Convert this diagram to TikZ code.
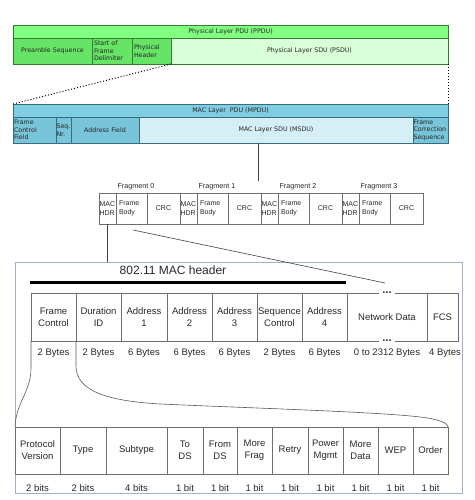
\documentclass[tikz,border=0pt]{standalone}
\usepackage{fontspec}
\setmainfont{Liberation Sans}
\newfontfamily\dv{DejaVu Sans}
\definecolor{ghead}{RGB}{128,255,128}
\definecolor{gcell}{RGB}{102,228,102}
\definecolor{glight}{RGB}{216,255,216}
\definecolor{gline}{RGB}{50,125,50}
\definecolor{bhead}{RGB}{128,204,224}
\definecolor{bcell}{RGB}{120,196,216}
\definecolor{blight}{RGB}{214,238,245}
\definecolor{bline}{RGB}{55,110,125}
\definecolor{boxc}{RGB}{160,178,196}
\definecolor{tline}{RGB}{110,110,110}
\definecolor{ttext}{RGB}{40,40,40}
\tikzset{
  cell/.style={draw, rectangle, anchor=north west, inner xsep=2pt, inner ysep=0pt, outer sep=0pt, line width=0.7pt},
  phy/.style={cell, draw=gline, font=\dv\fontsize{6.3}{7.6}\selectfont, text=black!85},
  mac/.style={cell, draw=bline, font=\dv\fontsize{6.3}{7.6}\selectfont, text=black!85},
  frag/.style={cell, draw=tline, line width=0.6pt, font=\fontsize{7}{9}\selectfont, text=ttext, minimum height=31pt},
  flabel/.style={font=\fontsize{7.2}{8}\selectfont, text=ttext},
  hcell/.style={cell, draw=tline, line width=0.6pt, align=center, font=\fontsize{9.5}{12}\selectfont, text=ttext, inner xsep=0pt},
  blabel/.style={font=\fontsize{9.5}{11}\selectfont, text=ttext, inner sep=0pt},
  conn/.style={draw=black!75, line width=0.6pt},
  curve/.style={draw=black!65, line width=0.6pt},
  dotsn/.style={fill=white, inner xsep=3pt, inner ysep=0.6pt, font=\fontsize{11}{11}\bfseries\selectfont, text=ttext}
}
\begin{document}
\begin{tikzpicture}[x=1pt,y=-1pt]
\useasboundingbox (0,0) rectangle (474,500);
% ---------- PPDU ----------
\node[phy, fill=ghead, minimum width=435pt, minimum height=13pt] (ppdu) at (13,25) {Physical Layer PDU (PPDU)};
\node[phy, fill=gcell, minimum width=79pt, minimum height=26pt] (pre) at (13,38) {Preamble Sequence};
\node[phy, fill=gcell, minimum height=26pt, text width=36pt, align=left] (sfd) at (92,38) {Start of\\Frame\\Delimiter};
\node[phy, fill=gcell, minimum height=26pt, text width=35pt, align=left] (phh) at (132,38) {Physical\\Header};
\node[phy, fill=glight, minimum width=277pt, minimum height=26pt] (psdu) at (171,38) {Physical Layer SDU (PSDU)};
% ---------- MPDU ----------
\node[mac, fill=bhead, minimum width=435pt, minimum height=13pt] (mpdu) at (13,104) {MAC Layer\ \ PDU (MPDU)};
\node[mac, fill=bcell, minimum height=26pt, text width=41pt, inner xsep=1pt, align=left] (fcf) at (13,117) {Frame\\Control\\Field};
\node[mac, fill=bcell, minimum height=26pt, text width=14pt, inner xsep=0.5pt, align=left] (seq) at (56,117) {Seq.\\Nr.};
\node[mac, fill=bcell, minimum width=68pt, minimum height=26pt] (addr) at (71,117) {Address Field};
\node[mac, fill=blight, minimum width=274pt, minimum height=26pt] (msdu) at (139,117) {MAC Layer SDU (MSDU)};
\node[mac, fill=bcell, minimum height=26pt, text width=34pt, inner xsep=0.5pt, align=left] (fcs) at (413,117) {Frame\\Correction\\Sequence};
\draw[dotted, line width=1pt] (psdu.south west) -- (mpdu.north west);
\draw[dotted, line width=1pt] (psdu.south east) -- (mpdu.north east);
% ---------- Fragments ----------
\coordinate (fragtop) at (258,181);
\draw[conn] (msdu.south -| fragtop) -- (fragtop);
\foreach \i in {0,1,2,3}{
  \pgfmathsetmacro{\xo}{99+81*\i}
  \node[frag, text width=16pt, inner xsep=0.5pt, align=left] (h\i) at (\xo,193) {MAC\\HDR};
  \node[frag, text width=25pt, inner xsep=3pt, align=left] (b\i) at (\xo+17,193) {Frame\\Body};
  \node[frag, minimum width=33pt] (c\i) at (\xo+48,193) {CRC};
  \node[flabel] (fl\i) at (\xo+37,187) {Fragment \i};
}
% ---------- 802.11 MAC header ----------
\node[draw=boxc, line width=0.8pt, rectangle, anchor=north west, minimum width=447pt, minimum height=231pt, inner sep=0pt] (hdrbox) at (15,262) {};
\draw[conn] (h0.south) -- (h0.south |- hdrbox.north);
\node[font=\fontsize{12}{14}\selectfont, text=ttext] (title) at (173,270) {802.11 MAC header};
\draw[line width=3pt] (30,282) -- (346,282);
% upper table
\node[hcell, minimum width=45pt, minimum height=48pt] (u1) at (31,293) {Frame\\Control};
\node[hcell, minimum width=45pt, minimum height=48pt] (u2) at (76,293) {Duration\\ID};
\node[hcell, minimum width=46pt, minimum height=48pt] (u3) at (121,293) {Address\\1};
\node[hcell, minimum width=45pt, minimum height=48pt] (u4) at (167,293) {Address\\2};
\node[hcell, minimum width=45pt, minimum height=48pt] (u5) at (212,293) {Address\\3};
\node[hcell, minimum width=45pt, minimum height=48pt] (u6) at (257,293) {Sequence\\Control};
\node[hcell, minimum width=45pt, minimum height=48pt] (u7) at (302,293) {Address\\4};
\node[hcell, minimum width=80pt, minimum height=48pt] (u8) at (347,293) {Network Data};
\node[hcell, minimum width=31pt, minimum height=48pt] (u9) at (427,293) {FCS};
\node[dotsn] (dtop) at (387,292.5) {...};
\node[dotsn] (dbot) at (387,340.5) {...};
\foreach \n/\t in {u1/2 Bytes,u2/2 Bytes,u3/6 Bytes,u4/6 Bytes,u5/6 Bytes,u6/2 Bytes,u7/6 Bytes,u8/0 to 2312 Bytes}{
  \node[blabel] at (\n.south |- 0,353) {\t};
}
\node[blabel, anchor=east] (fcsb) at (461,353) {4 Bytes};
\coordinate (s1) at (133,230);
\coordinate (nd) at (385,283);
\draw[conn] (s1) -- (nd);
% lower table
\node[hcell, minimum width=45pt, minimum height=47pt] (l1) at (15,427) {Protocol\\Version};
\node[hcell, minimum width=46pt, minimum height=47pt] (l2) at (60,427) {Type};
\node[hcell, minimum width=61pt, minimum height=47pt] (l3) at (106,427) {Subtype};
\node[hcell, minimum width=36pt, minimum height=47pt] (l4) at (167,427) {To\\DS};
\node[hcell, minimum width=34pt, minimum height=47pt] (l5) at (203,427) {From\\DS};
\node[hcell, minimum width=35pt, minimum height=47pt] (l6) at (237,427) {More\\Frag};
\node[hcell, minimum width=36pt, minimum height=47pt] (l7) at (272,427) {Retry};
\node[hcell, minimum width=35pt, minimum height=47pt] (l8) at (308,427) {Power\\Mgmt};
\node[hcell, minimum width=35pt, minimum height=47pt] (l9) at (343,427) {More\\Data};
\node[hcell, minimum width=35pt, minimum height=47pt] (l10) at (378,427) {WEP};
\node[hcell, minimum width=35pt, minimum height=47pt] (l11) at (413,427) {Order};
\foreach \n/\t in {l1/2 bits,l2/2 bits,l3/4 bits,l4/1 bit,l5/1 bit,l6/1 bit,l7/1 bit,l8/1 bit,l9/1 bit,l10/1 bit,l11/1 bit}{
  \node[blabel] at (\n.south |- 0,488) {\t};
}
% curves
\draw[curve] (u1.south west) -- (31,368) .. controls (31,392) and (16,402) .. (l1.north west);
\draw[curve] (u1.south east) -- (76,366) .. controls (76,392) and (110,401) .. (160,404) .. controls (250,408) and (380,412) .. (420,417) .. controls (438,419) and (448,423) .. (l11.north east);
\end{tikzpicture}
\end{document}
